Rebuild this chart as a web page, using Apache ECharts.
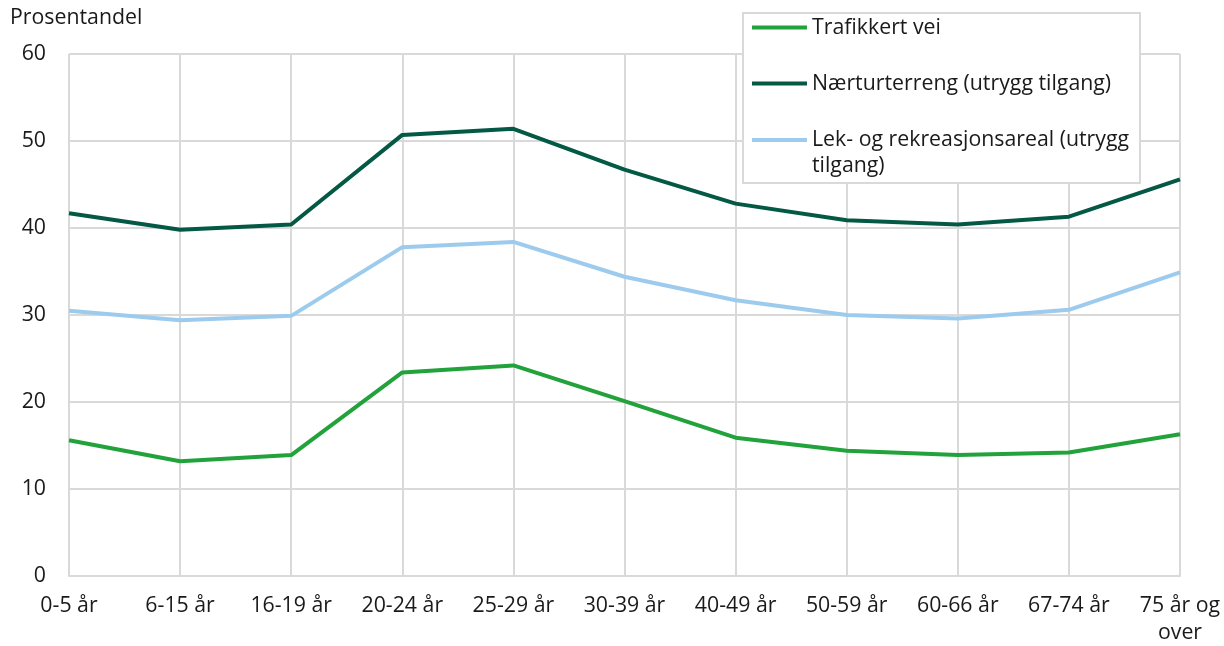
<!DOCTYPE html>
<html>
<head>
<meta charset="utf-8">
<script src="https://cdn.jsdelivr.net/npm/echarts@6/dist/echarts.min.js"></script>
<style>
html,body{margin:0;padding:0;background:#fff;}
#chart{width:1224px;height:646px;}
</style>
</head>
<body>
<div id="chart"></div>
<script>
var categories = ['0-5 år','6-15 år','16-19 år','20-24 år','25-29 år','30-39 år','40-49 år','50-59 år','60-66 år','67-74 år','75 år og\nover'];
var trafikkertVei = [15.6, 13.2, 13.9, 23.4, 24.2, 20.1, 15.9, 14.4, 13.9, 14.2, 16.3];
var naerturterreng = [41.7, 39.8, 40.4, 50.7, 51.4, 46.7, 42.8, 40.9, 40.4, 41.3, 45.6];
var lekOgRekreasjon = [30.5, 29.4, 29.9, 37.8, 38.4, 34.4, 31.7, 30.0, 29.6, 30.6, 34.9];
var yTicks = [0, 10, 20, 30, 40, 50, 60];

var seriesNames = ['Trafikkert vei', 'Nærturterreng (utrygg tilgang)', 'Lek- og rekreasjonsareal (utrygg tilgang)'];
var colors = ['#22a23a', '#035943', '#9dcbee'];
var FONT = 'Open Sans';
var FS = 21.3;

var chart = echarts.init(document.getElementById('chart'), null, {renderer:'canvas'});

function legend(name, top, fmt, lh) {
  return {
    data: [name],
    left: 752,
    top: top,
    padding: 0,
    orient: 'vertical',
    icon: 'rect',
    itemWidth: 55,
    itemHeight: 4,
    selectedMode: false,
    formatter: function(){ return fmt; },
    textStyle: {fontFamily: FONT, fontSize: FS, color: '#1a1a1a', lineHeight: lh}
  };
}

chart.setOption({
  animation: false,
  backgroundColor: '#ffffff',
  title: {
    text: 'Prosentandel',
    left: 10,
    top: 7,
    padding: 0,
    textStyle: {fontFamily: FONT, fontSize: FS, fontWeight: 'normal', color: '#1a1a1a'}
  },
  graphic: [{
    type: 'rect',
    z: 3,
    shape: {x: 743, y: 13, width: 397, height: 170},
    style: {fill: '#ffffff', stroke: '#d9d9d9', lineWidth: 2}
  }],
  legend: [
    legend(seriesNames[0], 15, 'Trafikkert vei', 25),
    legend(seriesNames[1], 71, 'Nærturterreng (utrygg tilgang)', 25),
    legend(seriesNames[2], 101, '\nLek- og rekreasjonsareal (utrygg\ntilgang)', 26)
  ],
  grid: {left: 69, right: 44, top: 54, bottom: 69, containLabel: false},
  xAxis: {
    type: 'category',
    data: categories,
    boundaryGap: false,
    axisLine: {show: true, lineStyle: {color: '#d9d9d9', width: 2}},
    axisTick: {show: false},
    splitLine: {show: true, lineStyle: {color: '#d9d9d9', width: 2}},
    axisLabel: {fontFamily: FONT, fontSize: FS, color: '#1a1a1a', margin: 16, lineHeight: 27, interval: 0}
  },
  yAxis: {
    type: 'value',
    min: yTicks[0],
    max: yTicks[yTicks.length - 1],
    interval: 10,
    axisLine: {show: false},
    axisTick: {show: false},
    splitLine: {show: true, lineStyle: {color: '#d9d9d9', width: 2}},
    axisLabel: {fontFamily: FONT, fontSize: FS, color: '#1a1a1a', margin: 23}
  },
  series: [
    {name: seriesNames[0], type: 'line', data: trafikkertVei, symbol: 'none', lineStyle: {width: 4, color: colors[0]}, itemStyle: {color: colors[0]}},
    {name: seriesNames[1], type: 'line', data: naerturterreng, symbol: 'none', lineStyle: {width: 4, color: colors[1]}, itemStyle: {color: colors[1]}},
    {name: seriesNames[2], type: 'line', data: lekOgRekreasjon, symbol: 'none', lineStyle: {width: 4, color: colors[2]}, itemStyle: {color: colors[2]}}
  ]
});
</script>
</body>
</html>
